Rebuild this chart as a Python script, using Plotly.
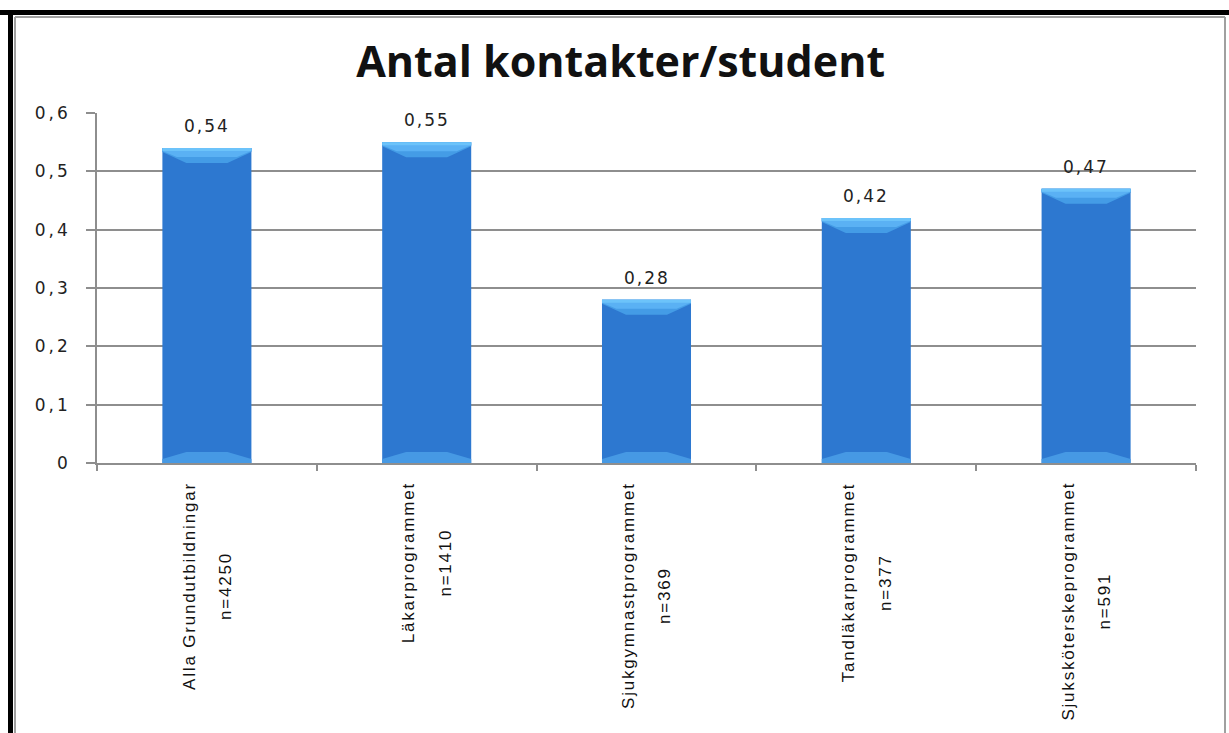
import plotly.graph_objects as go

# Data
categories = [
    "Alla Grundutbildningar",
    "Läkarprogrammet",
    "Sjukgymnastprogrammet",
    "Tandläkarprogrammet",
    "Sjuksköterskeprogrammet",
]
group_sizes = ["n=4250", "n=1410", "n=369", "n=377", "n=591"]
values = [0.54, 0.55, 0.28, 0.42, 0.47]
y_tickvals = [0, 0.1, 0.2, 0.3, 0.4, 0.5, 0.6]
y_ticktext = ["0", "0,1", "0,2", "0,3", "0,4", "0,5", "0,6"]

# Geometry / style
W, H = 1229, 733
ML, MR, MT, MB = 97, 33, 113, 270
PW, PH = W - ML - MR, H - MT - MB
BAR_W = 0.405
BODY = "#2d78d0"
BEVEL_TOP = "#449ce6"
BEVEL_TOP_HI = "#5ab1f4"
BEVEL_EDGE = "#6cc3fa"
BEVEL_BOT = "#4699e4"
GRID = "#8e8e8e"


def px_x(p):
    return (p - ML) / PW


def px_y(p):
    return (H - MB - p) / PH


def spaced(text, size, spacing):
    return f"<span style='font-size:{size}px;letter-spacing:{spacing}px'>{text}</span>"


fig = go.Figure()
fig.add_trace(go.Bar(
    x=categories,
    y=values,
    width=BAR_W,
    marker=dict(color=BODY, line=dict(width=0)),
    hoverinfo="x+y",
))

shapes = []
# bevel highlights on each bar, derived from the bar values
upp = 0.6 / PH            # data units per pixel (vertical)
cpp = 1.0 / (PW / len(categories))  # category units per pixel (horizontal)
for i, v in enumerate(values):
    x0, x1 = i - BAR_W / 2, i + BAR_W / 2
    ins = 24 * cpp
    # top bevel (two tones) and bright rim
    top = (f"M {x0},{v} L {x1},{v} L {x1},{v - 4 * upp} "
           f"L {x1 - ins},{v - 15 * upp} L {x0 + ins},{v - 15 * upp} "
           f"L {x0},{v - 4 * upp} Z")
    shapes.append(dict(type="path", xref="x", yref="y", path=top,
                       fillcolor=BEVEL_TOP, line=dict(width=0), layer="above"))
    top2 = (f"M {x0},{v} L {x1},{v} L {x1},{v - 3 * upp} "
            f"L {x1 - ins * 0.6},{v - 9 * upp} L {x0 + ins * 0.6},{v - 9 * upp} "
            f"L {x0},{v - 3 * upp} Z")
    shapes.append(dict(type="path", xref="x", yref="y", path=top2,
                       fillcolor=BEVEL_TOP_HI, line=dict(width=0), layer="above"))
    edge = f"M {x0},{v} L {x1},{v} L {x1},{v - 3 * upp} L {x0},{v - 3 * upp} Z"
    shapes.append(dict(type="path", xref="x", yref="y", path=edge,
                       fillcolor=BEVEL_EDGE, line=dict(width=0), layer="above"))
    # bottom bevel
    bot = (f"M {x0},0 L {x1},0 L {x1},{4 * upp} "
           f"L {x1 - ins},{11 * upp} L {x0 + ins},{11 * upp} "
           f"L {x0},{4 * upp} Z")
    shapes.append(dict(type="path", xref="x", yref="y", path=bot,
                       fillcolor=BEVEL_BOT, line=dict(width=0), layer="above"))

# outer frame of the picture
shapes += [
    dict(type="line", xref="paper", yref="paper",
         x0=px_x(0), x1=px_x(W), y0=px_y(12.5), y1=px_y(12.5),
         line=dict(color="black", width=5)),
    dict(type="line", xref="paper", yref="paper",
         x0=px_x(10.5), x1=px_x(10.5), y0=px_y(10), y1=px_y(H),
         line=dict(color="black", width=5)),
    dict(type="line", xref="paper", yref="paper",
         x0=px_x(15), x1=px_x(1225), y0=px_y(17), y1=px_y(17),
         line=dict(color="#a0a0a0", width=2)),
    dict(type="line", xref="paper", yref="paper",
         x0=px_x(15), x1=px_x(15), y0=px_y(17), y1=px_y(H),
         line=dict(color="#a0a0a0", width=2)),
    dict(type="line", xref="paper", yref="paper",
         x0=px_x(1225), x1=px_x(1225), y0=px_y(17), y1=px_y(H),
         line=dict(color="#a0a0a0", width=2)),
]

annotations = []
# value labels above bars
for cat, v in zip(categories, values):
    annotations.append(dict(
        x=cat, y=v, xref="x", yref="y", yanchor="bottom", yshift=10,
        text=spaced(f"{v:.2f}".replace(".", ","), 17, 2),
        showarrow=False,
        font=dict(family="DejaVu Sans", size=17, color="#222222"),
    ))
# rotated category labels (name + group size)
for cat, n in zip(categories, group_sizes):
    annotations.append(dict(
        x=cat, y=px_y(480), xref="x", yref="paper",
        xanchor="center", yanchor="top", textangle=-90, align="center",
        text=spaced(cat, 17, 1.8) + "<br>" + spaced(n, 17, 1.8),
        showarrow=False,
        font=dict(family="Liberation Sans", size=28, color="#111111"),
    ))

fig.update_layout(
    width=W, height=H,
    margin=dict(l=ML, r=MR, t=MT, b=MB, pad=0),
    paper_bgcolor="white", plot_bgcolor="white",
    showlegend=False,
    bargap=0.595,
    title=dict(
        text="<b>Antal kontakter/student</b>",
        x=0.505, xref="container", xanchor="center",
        y=1 - 62 / H, yref="container", yanchor="middle",
        font=dict(family="Open Sans", size=43, color="#111111"),
    ),
    xaxis=dict(
        type="category",
        range=[-0.5, len(categories) - 0.5],
        showticklabels=False,
        tickson="boundaries", ticks="outside", ticklen=6,
        tickcolor=GRID, tickwidth=1.5,
        showline=True, linecolor=GRID, linewidth=1.5,
        showgrid=False, zeroline=False,
    ),
    yaxis=dict(
        range=[0, 0.6],
        tickvals=y_tickvals,
        ticktext=[spaced(t, 17, 3) for t in y_ticktext],
        ticks="outside", ticklen=9, tickcolor=GRID, tickwidth=1.5,
        ticklabelstandoff=12,
        tickfont=dict(family="DejaVu Sans", size=17, color="#222222"),
        showline=True, linecolor=GRID, linewidth=1.5,
        showgrid=True, gridcolor=GRID, gridwidth=1.5,
        zeroline=False,
    ),
    shapes=shapes,
    annotations=annotations,
)

fig.write_html("out.html")
